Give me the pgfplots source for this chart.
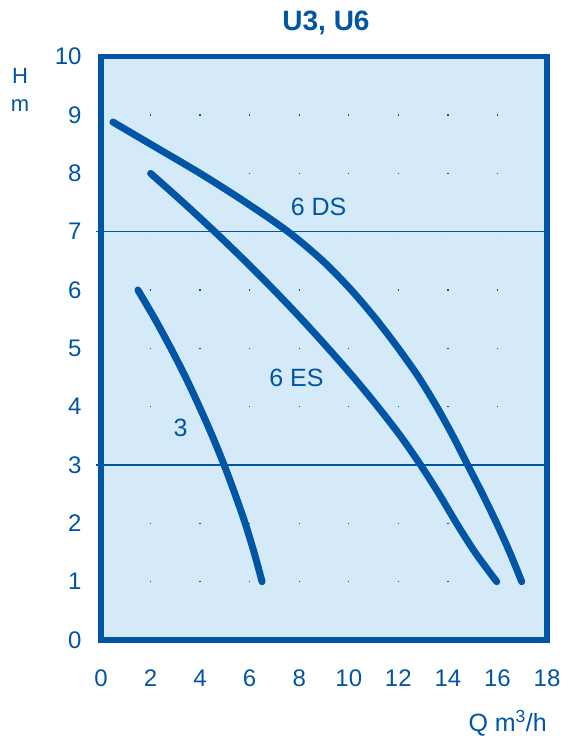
\documentclass[border=0pt]{standalone}
\usepackage{fontspec}
\setmainfont{Liberation Sans}
\usepackage{pgfplots}
\pgfplotsset{compat=1.18}
\definecolor{dblue}{RGB}{0,85,164}
\definecolor{lblue}{RGB}{212,234,248}
\begin{document}
\begin{tikzpicture}
\begin{axis}[
  at={(0,0)}, anchor=south west,
  scale only axis, width=446bp, height=583.3bp,
  xmin=0, xmax=18, ymin=0, ymax=10,
  xtick={0,2,...,18}, ytick={0,1,...,10},
  major tick length=0pt,
  axis line style={dblue, line width=5.5bp},
  axis background/.style={fill=lblue},
  tick label style={text=dblue, font=\fontsize{24bp}{28bp}\selectfont},
  /pgf/number format/assume math mode=true,
  xticklabel style={yshift=-26bp},
  yticklabel style={xshift=-16bp},
  xmajorgrids, ymajorgrids,
  x grid style={dblue, line width=1.4bp, dash pattern=on 1.4bp off 56.93bp, dash phase=0.7bp},
  y grid style={dblue, line width=1.4bp, dash pattern=on 1.4bp off 48.155bp, dash phase=0.7bp},
  clip=false,
]
\draw[dblue, line width=1.3bp] (axis cs:-0.2,3) -- (axis cs:18,3);
\draw[dblue, line width=1.3bp] (axis cs:-0.2,7) -- (axis cs:18,7);
% 6 DS
\addplot[dblue, line width=7bp, line cap=round, smooth] coordinates {
(0.48,8.88) (2.0,8.5) (4.0,8.0) (5.85,7.5) (7.55,7.0) (8.95,6.5) (10.1,6.0) (11.1,5.5) (12.0,5.0) (12.83,4.5) (13.55,4.0) (14.2,3.5) (14.8,3.0) (15.4,2.5) (15.97,2.0) (16.5,1.5) (16.98,1.0)};
% 6 ES
\addplot[dblue, line width=7bp, line cap=round, smooth] coordinates {
(2.0,8.0) (3.32,7.5) (4.59,7.0) (5.81,6.5) (6.98,6.0) (8.1,5.5) (9.17,5.0) (10.2,4.5) (11.17,4.0) (12.08,3.5) (12.9,3.0) (13.65,2.5) (14.35,2.0) (15.1,1.5) (15.97,1.0)};
% 3
\addplot[dblue, line width=7bp, line cap=round, smooth] coordinates {
(1.49,6.0) (2.18,5.5) (2.82,5.0) (3.42,4.5) (3.97,4.0) (4.49,3.5) (4.97,3.0) (5.41,2.5) (5.82,2.0) (6.18,1.5) (6.5,1.0)};
\node[text=dblue, font=\fontsize{25bp}{29bp}\selectfont] at (axis cs:8.78,7.42) {6 DS};
\node[text=dblue, font=\fontsize{25bp}{29bp}\selectfont] at (axis cs:7.89,4.50) {6 ES};
\node[text=dblue, font=\fontsize{25bp}{29bp}\selectfont] at (axis cs:3.21,3.64) {3};
\end{axis}
\node[text=dblue, font=\fontsize{28bp}{32bp}\selectfont\bfseries] at (225bp,617bp) {U3, U6};
\node[text=dblue, font=\fontsize{22bp}{26bp}\selectfont] at (-81bp,564.5bp) {H};
\node[text=dblue, font=\fontsize{22bp}{26bp}\selectfont] at (-81bp,534bp) {m};
\node[text=dblue, font=\fontsize{25bp}{29bp}\selectfont, anchor=east, inner sep=0pt] at (446bp,-83bp) {Q m\textsuperscript{3}/h};
\pgfresetboundingbox
\useasboundingbox (-101bp,-96bp) rectangle (463bp,640bp);
\end{tikzpicture}
\end{document}
